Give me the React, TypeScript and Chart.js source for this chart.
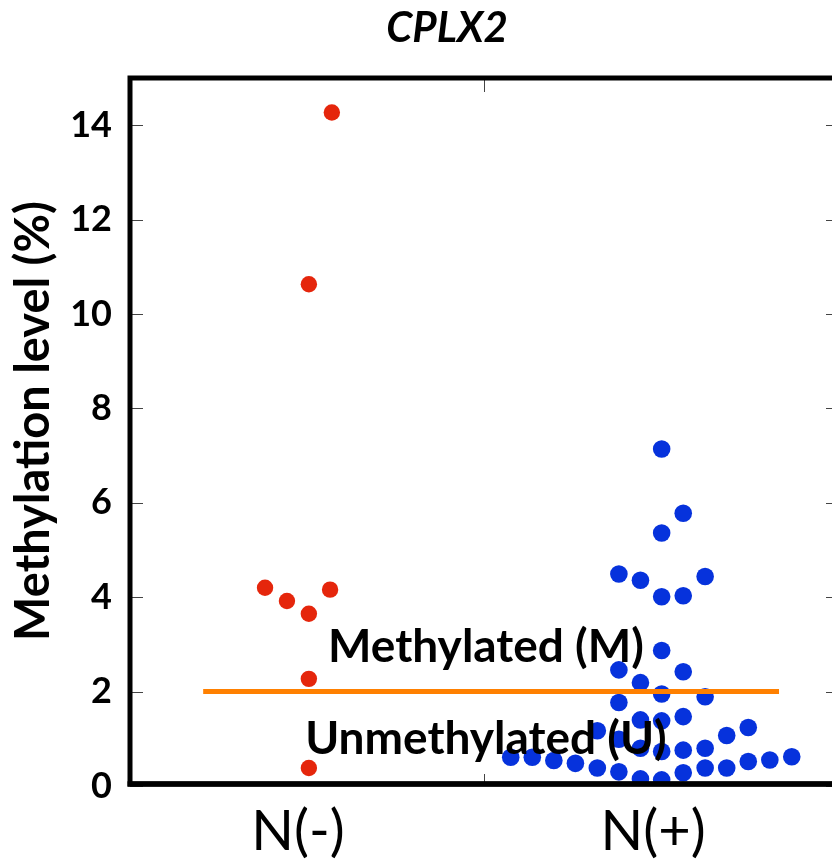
import React, { useEffect, useRef } from "react";
import { Chart, registerables } from "chart.js";

Chart.register(...registerables);

// ---- data ----
const chartTitle = "CPLX2";
const yAxisTitle = "Methylation level (%)";
const categories = ["N(-)", "N(+)"];
const categoryPos = [0.475, 1.48];
const yTicks = [0, 2, 4, 6, 8, 10, 12, 14];
const yMax = 15;
const xMax = 2;

// N(-) group (red)
const negX = [0.571, 0.506, 0.382, 0.444, 0.506, 0.566, 0.506, 0.506];
const negY = [14.27, 10.63, 4.2, 3.92, 3.65, 4.16, 2.27, 0.38];

// N(+) group (blue)
const posX = [
  1.504, 1.565, 1.504, 1.383, 1.444, 1.504, 1.565, 1.627, 1.504, 1.383,
  1.565, 1.444, 1.504, 1.627, 1.383, 1.444, 1.504, 1.565, 1.322, 1.383,
  1.749, 1.688, 1.444, 1.504, 1.565, 1.627, 1.077, 1.138, 1.199, 1.26,
  1.322, 1.383, 1.444, 1.504, 1.565, 1.627, 1.688, 1.749, 1.81, 1.872,
];
const posY = [
  7.14, 5.78, 5.36, 4.49, 4.36, 4.01, 4.03, 4.44, 2.87, 2.46,
  2.42, 2.19, 1.95, 1.89, 1.77, 1.4, 1.38, 1.47, 1.17, 0.99,
  1.24, 1.07, 0.8, 0.73, 0.76, 0.8, 0.61, 0.61, 0.54, 0.48,
  0.38, 0.3, 0.15, 0.13, 0.28, 0.38, 0.38, 0.52, 0.55, 0.62,
];

const cutoffValue = 2;
const cutoffX = [0.207, 1.836];
const regionLabels = ["Methylated (M)", "Unmethylated (U)"];
const regionLabelY = [2.63, 0.68];
const regionLabelX = 1.007;

const RED = "#e5260c";
const BLUE = "#0632dc";
const ORANGE = "#ff8000";

const decorPlugin = {
  id: "decor",
  afterDatasetsDraw(chart: any) {
    const ctx = chart.ctx;
    const { left, right, top, bottom } = chart.chartArea;
    const xs = chart.scales.x;
    const ys = chart.scales.y;
    ctx.save();

    // region labels
    ctx.fillStyle = "#000";
    ctx.font = "bold 46px Lato";
    ctx.textAlign = "center";
    ctx.textBaseline = "alphabetic";
    regionLabels.forEach((t, i) => {
      ctx.fillText(t, xs.getPixelForValue(regionLabelX), ys.getPixelForValue(regionLabelY[i]));
    });

    // inner tick marks
    ctx.strokeStyle = "#444";
    ctx.lineWidth = 1;
    yTicks.forEach((v) => {
      const y = Math.round(ys.getPixelForValue(v)) + 0.5;
      ctx.beginPath();
      ctx.moveTo(left, y);
      ctx.lineTo(left + 13, y);
      ctx.moveTo(right, y);
      ctx.lineTo(right - 11, y);
      ctx.stroke();
    });
    const xm = Math.round(xs.getPixelForValue(1)) + 0.5;
    ctx.beginPath();
    ctx.moveTo(xm, top);
    ctx.lineTo(xm, top + 14);
    ctx.moveTo(xm, bottom);
    ctx.lineTo(xm, bottom - 12);
    ctx.stroke();

    // frame
    ctx.strokeStyle = "#000";
    ctx.lineWidth = 5;
    ctx.beginPath();
    ctx.moveTo(left, bottom - 2);
    ctx.lineTo(left, top);
    ctx.lineTo(right, top);
    ctx.lineTo(right, bottom - 2);
    ctx.closePath();
    ctx.stroke();
    ctx.lineWidth = 5.5;
    ctx.beginPath();
    ctx.moveTo(left - 2.5, bottom - 2);
    ctx.lineTo(right + 3, bottom - 2);
    ctx.stroke();

    // title
    ctx.font = "italic bold 42px Lato";
    ctx.textAlign = "center";
    ctx.fillText(chartTitle, 447, 42);

    // category labels
    ctx.font = "56px Lato";
    categories.forEach((c, i) => {
      ctx.fillText(c, xs.getPixelForValue(categoryPos[i]), 850);
    });

    // y axis title
    ctx.translate(34, 421);
    ctx.rotate(-Math.PI / 2);
    ctx.font = "bold 47px Lato";
    ctx.textBaseline = "middle";
    ctx.fillText(yAxisTitle, 0, 0);
    ctx.restore();
  },
};

export default function App() {
  const ref = useRef<HTMLCanvasElement | null>(null);
  useEffect(() => {
    if (!ref.current) return;
    const chart = new Chart(ref.current, {
      type: "scatter",
      data: {
        datasets: [
          {
            type: "line",
            data: cutoffX.map((x) => ({ x, y: cutoffValue })),
            borderColor: ORANGE,
            borderWidth: 5,
            pointRadius: 0,
            fill: false,
          } as any,
          {
            data: negX.map((x, i) => ({ x, y: negY[i] })),
            backgroundColor: RED,
            borderColor: RED,
            borderWidth: 0,
            pointRadius: 8.2,
          },
          {
            data: posX.map((x, i) => ({ x, y: posY[i] })),
            backgroundColor: BLUE,
            borderColor: BLUE,
            borderWidth: 0,
            pointRadius: 8.8,
          },
        ],
      },
      options: {
        animation: false,
        responsive: false,
        devicePixelRatio: 1,
        layout: { padding: { top: 78, bottom: 74, right: 13, left: 0 } },
        plugins: { legend: { display: false }, tooltip: { enabled: false }, title: { display: false } },
        scales: {
          x: { type: "linear", min: 0, max: xMax, display: false },
          y: {
            type: "linear",
            min: 0,
            max: yMax,
            afterBuildTicks: (s: any) => {
              s.ticks = yTicks.map((v) => ({ value: v }));
            },
            afterFit: (s: any) => {
              s.width = 130;
            },
            grid: { display: false, drawTicks: false },
            border: { display: false },
            ticks: {
              padding: 18,
              color: "#000",
              font: { family: "Lato", weight: "bold", size: 36 },
            },
          },
        },
      },
      plugins: [decorPlugin],
    });
    return () => chart.destroy();
  }, []);
  return (
    <div style={{ position: "absolute", left: 0, top: 0, width: 832, height: 860, overflow: "hidden", background: "#fff" }}>
      <canvas ref={ref} width={850} height={860} style={{ display: "block" }} />
    </div>
  );
}
